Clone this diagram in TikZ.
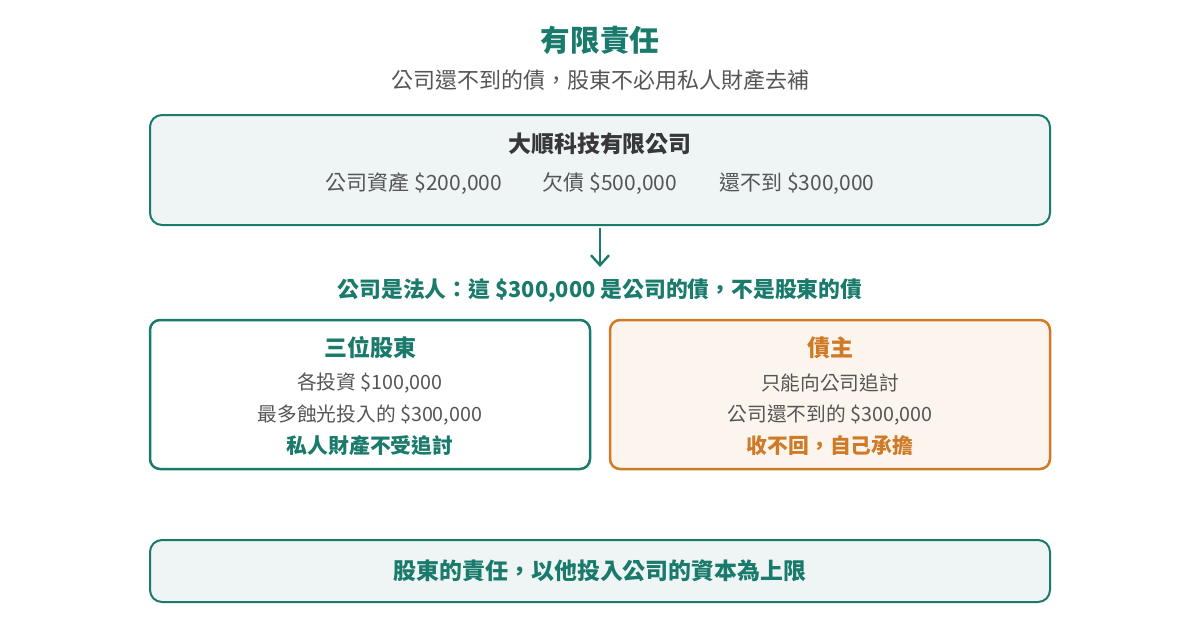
\documentclass[tikz,border=0pt]{standalone}
\usepackage{fontspec}
\setmainfont{Noto Sans CJK TC}
\usetikzlibrary{arrows.meta}
\definecolor{teal1}{HTML}{1A7A6B}
\definecolor{orange1}{HTML}{CF7A26}
\definecolor{tealbg}{HTML}{EFF5F5}
\definecolor{orangebg}{HTML}{FCF5EE}
\definecolor{txtgray}{HTML}{555555}
\definecolor{txtdark}{HTML}{383838}
\tikzset{
  panel/.style={draw=teal1, line width=2pt, rounded corners=12pt, fill=tealbg},
  tl/.style={font=\fontsize{#1}{#1}\selectfont, inner sep=0pt, anchor=center},
}
\begin{document}
\begin{tikzpicture}[x=1pt,y=-1pt]
\useasboundingbox (0,0) rectangle (1200,640);
% title
\node[tl=29.6, text=teal1] (title) at (600,40) {\bfseries 有限責任};
\node[tl=22, text=txtgray] (sub) at (600,80) {公司還不到的債，股東不必用私人財產去補};
% top box
\draw[panel] (150,115) rectangle (1050,225);
\node (topbox) at (600,170) {};
\coordinate (topbot) at (600,228);
\node[tl=22.9, text=txtdark] (co) at (600,144) {\bfseries 大順科技有限公司};
\node[tl=21, text=txtgray] (a1) at (414,184) {公司資產 \$200,000};
\node[tl=21, text=txtgray] (a2) at (610,184) {欠債 \$500,000};
\node[tl=21, text=txtgray] (a3) at (797,184) {還不到 \$300,000};
% arrow
\coordinate (arrend) at (600,267);
\draw[teal1, line width=2.4pt, -{Straight Barb[length=10pt,width=18pt,line width=2.4pt]}] (topbot) -- (arrend);
\node[tl=21.8, text=teal1] (law) at (600,290) {\bfseries 公司是法人：這 \$300,000 是公司的債，不是股東的債};
% left box
\draw[draw=teal1, line width=2.5pt, rounded corners=10pt, fill=white] (150,320) rectangle (590,469);
\node[tl=23, text=teal1] (sh) at (370,348) {\bfseries 三位股東};
\node[tl=19.7, text=txtgray] (s1) at (370,383) {各投資 \$100,000};
\node[tl=19.7, text=txtgray] (s2) at (370,415) {最多蝕光投入的 \$300,000};
\node[tl=20.8, text=teal1] (s3) at (370,446) {\bfseries 私人財產不受追討};
% right box
\draw[draw=orange1, line width=2.5pt, rounded corners=10pt, fill=orangebg] (610,320) rectangle (1050,469);
\node[tl=23, text=orange1] (cr) at (830,348) {\bfseries 債主};
\node[tl=19.7, text=txtgray] (c1) at (830,383) {只能向公司追討};
\node[tl=19.7, text=txtgray] (c2) at (830,415) {公司還不到的 \$300,000};
\node[tl=20.8, text=orange1] (c3) at (830,446) {\bfseries 收不回，自己承擔};
% bottom box
\draw[panel] (150,540) rectangle (1050,602);
\node[tl=22.9, text=teal1] (bot) at (600,571) {\bfseries 股東的責任，以他投入公司的資本為上限};
\end{tikzpicture}
\end{document}
